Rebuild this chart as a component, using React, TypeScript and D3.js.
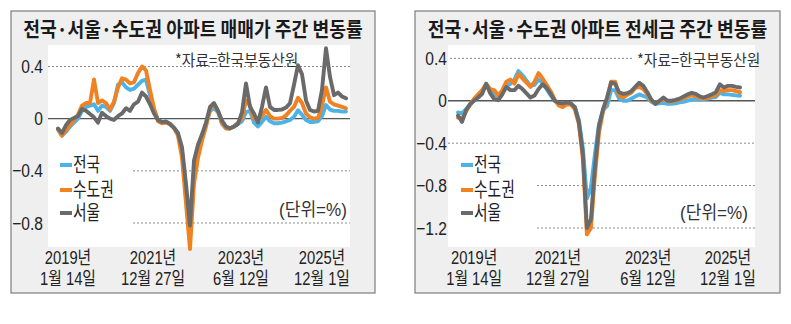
import React from 'react';
import * as d3 from 'd3';

const SERIES_NAMES = ['전국', '수도권', '서울'];
const SERIES_COLORS = ['#4cb3e9', '#f18221', '#6a6a6a'];

const X_LABEL_YEAR = ['2019년', '2021년', '2023년', '2025년'];
const X_LABEL_DAY = ['1월 14일', '12월 27일', '6월 12일', '12월 1일'];

const SALE_TITLE = '전국·서울·수도권 아파트 매매가 주간 변동률';
const JEONSE_TITLE = '전국·서울·수도권 아파트 전세금 주간 변동률';
const SOURCE = '*자료=한국부동산원';
const UNIT = '(단위=%)';

const SALE_Y_TICKS = [0.4, 0, -0.4, -0.8];
const JEONSE_Y_TICKS = [0.4, 0, -0.4, -0.8, -1.2];

const SALE_TICK_INDEX = [2.5, 23.75, 45.75, 66];
const JEONSE_TICK_INDEX = [4, 24.8, 47.2, 67];

const SALE_NATION = [
  -0.085, -0.13, -0.1, -0.06, -0.03, 0.0, 0.06, 0.09, 0.1, 0.11,
  0.06, 0.1, 0.09, 0.06, 0.12, 0.26, 0.28, 0.24, 0.22, 0.23,
  0.26, 0.29, 0.3, 0.18, 0.07, -0.01, -0.03, -0.02, -0.04, -0.07,
  -0.12, -0.25, -0.55, -0.85, -0.4, -0.25, -0.15, -0.04, 0.06, 0.08,
  0.05, -0.04, -0.075, -0.075, -0.06, -0.04, -0.02, 0.05, 0.06, -0.03,
  -0.06, -0.025, 0.015, -0.02, -0.035, -0.035, -0.03, -0.02, -0.01, 0.015,
  0.065, 0.03, -0.01, -0.025, -0.025, -0.02, 0.02, 0.105, 0.07, 0.06,
  0.06, 0.054, 0.054,
];
const SALE_CAPITAL = [
  -0.08, -0.13, -0.09, -0.05, -0.01, 0.03, 0.1, 0.12, 0.12, 0.3,
  0.12, 0.14, 0.12, 0.07, 0.13, 0.24, 0.31, 0.3, 0.27, 0.28,
  0.35, 0.4, 0.37, 0.22, 0.08, -0.02, -0.035, -0.03, -0.045, -0.07,
  -0.13, -0.3, -0.65, -1.0, -0.5, -0.3, -0.17, -0.06, 0.07, 0.11,
  0.06, -0.035, -0.074, -0.075, -0.06, -0.03, 0.0, 0.14, 0.1, 0.0,
  -0.01, 0.02, 0.067, 0.02, 0.0, 0.0, 0.005, 0.025, 0.06, 0.09,
  0.16, 0.12, 0.04, 0.01, 0.0, 0.005, 0.1, 0.24, 0.13, 0.11,
  0.1, 0.09, 0.08,
];
const SALE_SEOUL = [
  -0.075, -0.11, -0.05, -0.01, 0.005, 0.02, 0.075, 0.06, 0.035, 0.01,
  -0.03, 0.045, 0.02, 0.0, -0.01, 0.02, 0.04, 0.08, 0.06, 0.11,
  0.13, 0.2, 0.17, 0.11, 0.04, -0.01, -0.025, -0.023, -0.04, -0.07,
  -0.11, -0.22, -0.5, -0.82, -0.32, -0.2, -0.12, -0.03, 0.09, 0.12,
  0.06, -0.015, -0.06, -0.074, -0.06, -0.04, 0.05, 0.27, 0.09, 0.04,
  -0.03, 0.09, 0.24, 0.09, 0.067, 0.067, 0.07, 0.085, 0.118, 0.26,
  0.41, 0.34, 0.14, 0.067, 0.055, 0.06, 0.22, 0.54, 0.32, 0.18,
  0.2, 0.17, 0.156,
];

const JEONSE_NATION = [
  -0.11, -0.12, -0.08, -0.04, 0.01, 0.04, 0.09, 0.15, 0.09, 0.06,
  0.04, 0.09, 0.14, 0.16, 0.2, 0.28, 0.24, 0.19, 0.14, 0.15,
  0.2, 0.17, 0.11, 0.05, 0.0, -0.03, -0.035, -0.02, -0.025, -0.06,
  -0.18, -0.45, -0.92, -0.82, -0.5, -0.22, -0.09, -0.05, 0.1, 0.1,
  0.02, 0.0, 0.0, 0.02, 0.04, 0.06, 0.045, 0.03, -0.01, -0.03,
  -0.025, -0.02, -0.03, -0.03, -0.025, -0.015, -0.01, 0.0, 0.01, 0.015,
  0.01, 0.015, 0.02, 0.03, 0.035, 0.075, 0.06, 0.06, 0.055, 0.05, 0.047,
];
const JEONSE_CAPITAL = [
  -0.16, -0.17, -0.1, -0.04, 0.02, 0.06, 0.1, 0.16, 0.11, 0.1,
  0.05, 0.1, 0.18, 0.2, 0.16, 0.25, 0.21, 0.17, 0.13, 0.18,
  0.26, 0.21, 0.15, 0.09, 0.01, -0.045, -0.06, -0.035, -0.035, -0.08,
  -0.22, -0.55, -1.26, -1.2, -0.7, -0.3, -0.1, 0.02, 0.18, 0.18,
  0.05, 0.03, 0.055, 0.075, 0.12, 0.13, 0.11, 0.06, 0.0, -0.02,
  -0.005, 0.015, -0.005, -0.005, 0.0, 0.01, 0.025, 0.04, 0.05, 0.04,
  0.03, 0.02, 0.03, 0.04, 0.05, 0.1, 0.09, 0.1, 0.1, 0.09, 0.08,
];
const JEONSE_SEOUL = [
  -0.14, -0.2, -0.09, -0.03, 0.0, 0.03, 0.065, 0.16, 0.07, 0.015,
  0.005, 0.06, 0.13, 0.1, 0.1, 0.14, 0.11, 0.07, 0.03, 0.05,
  0.11, 0.155, 0.12, 0.065, 0.0, -0.02, -0.025, -0.016, -0.025, -0.06,
  -0.2, -0.5, -1.2, -1.12, -0.62, -0.24, -0.08, 0.03, 0.17, 0.16,
  0.08, 0.065, 0.07, 0.09, 0.13, 0.17, 0.14, 0.08, 0.01, -0.03,
  0.0, 0.03, 0.0, 0.0, 0.008, 0.02, 0.04, 0.06, 0.075, 0.065,
  0.04, 0.03, 0.045, 0.06, 0.08, 0.155, 0.125, 0.14, 0.14, 0.13, 0.125,
];

const FONT = "'Noto Sans CJK KR', 'Noto Sans', sans-serif";
const NUM_FONT = "'Liberation Sans', 'Noto Sans CJK KR', sans-serif";

function fmt(v: number) {
  if (v === 0) return '0';
  return (v < 0 ? '\u2212' : '') + Math.abs(v).toFixed(1);
}

function CText(props: any) {
  const { x, y, anchor = 'start', size = 19, sx = 0.74, weight = 400, fill = '#222', family = FONT, children } = props;
  return (
    <text
      transform={`translate(${x},${y}) scale(${sx},1)`}
      textAnchor={anchor}
      dominantBaseline="central"
      fontSize={size}
      fontWeight={weight}
      fill={fill}
      fontFamily={family}
    >
      {children}
    </text>
  );
}

function Panel(props: any) {
  const { cfg } = props;
  const n = cfg.series[0].length;
  const xs = d3.scaleLinear().domain([0, n - 1]).range(cfg.xRange);
  const ys = d3.scaleLinear().domain(cfg.yDomain).range(cfg.yRange);
  const line = d3
    .line<number>()
    .x((_d, i) => xs(i))
    .y((d) => ys(d));
  const b = cfg.box;
  const p = cfg.plot;
  return (
    <g>
      <rect x={b.x} y={b.y} width={b.w} height={b.h} fill="#efefef" stroke="#7d7d7d" strokeWidth={1.2} />
      <CText x={b.x + b.w / 2} y={29} anchor="middle" size={20} sx={cfg.titleSx} weight={700} fill="#1a1a1a">
        {cfg.title}
      </CText>
      <rect x={p.x} y={p.y} width={p.w} height={p.h} fill="#ffffff" />
      {cfg.yTicks.map((t: number, i: number) => {
        const y = ys(t);
        const x0 = t === 0 ? p.x : cfg.gridStart[i];
        const x1 = cfg.gridEnd[i];
        return (
          <line
            key={'g' + i}
            x1={x0}
            x2={x1}
            y1={y}
            y2={y}
            stroke={t === 0 ? '#555' : '#8a8a8a'}
            strokeWidth={t === 0 ? 1.4 : 1}
            strokeDasharray={t === 0 ? undefined : '2,2'}
          />
        );
      })}
      {cfg.yTicks.map((t: number, i: number) => (
        <CText key={'t' + i} x={cfg.yLabelX} y={ys(t)} anchor="end" size={19} sx={0.82} family={NUM_FONT}>
          {fmt(t)}
        </CText>
      ))}
      <CText x={cfg.sourceX} y={cfg.sourceY} size={16} sx={0.92} fill="#333">
        {SOURCE}
      </CText>
      <CText x={cfg.unitX} y={cfg.unitY} anchor="end" size={18} sx={0.95} fill="#333" family={NUM_FONT}>
        {UNIT}
      </CText>
      {cfg.series.map((s: number[], i: number) => (
        <path
          key={'s' + i}
          d={line(s) || ''}
          fill="none"
          stroke={SERIES_COLORS[i]}
          strokeWidth={3.9}
          strokeLinejoin="round"
          strokeLinecap="round"
        />
      ))}
      {SERIES_NAMES.map((nm, i) => (
        <g key={'l' + i}>
          <line
            x1={cfg.legendX}
            x2={cfg.legendX + 12}
            y1={cfg.legendY[i]}
            y2={cfg.legendY[i]}
            stroke={SERIES_COLORS[i]}
            strokeWidth={4}
          />
          <CText x={cfg.legendX + 13} y={cfg.legendY[i]} size={20} sx={0.74} family={NUM_FONT}>
            {nm}
          </CText>
        </g>
      ))}
      {cfg.tickIndex.map((ti: number, i: number) => (
        <g key={'x' + i}>
          <CText x={xs(ti)} y={257.5} anchor="middle" size={18} sx={0.82} family={NUM_FONT}>
            {X_LABEL_YEAR[i]}
          </CText>
          <CText x={xs(ti)} y={278.5} anchor="middle" size={18} sx={0.82} family={NUM_FONT}>
            {X_LABEL_DAY[i]}
          </CText>
        </g>
      ))}
    </g>
  );
}

const SALE_CFG = {
  title: SALE_TITLE,
  titleSx: 0.91,
  box: { x: 11, y: 11, w: 364, h: 282 },
  plot: { x: 48, y: 45, w: 302, h: 202 },
  xRange: [58, 346],
  yDomain: [0.4, -0.8],
  yRange: [66.5, 223],
  yTicks: SALE_Y_TICKS,
  gridStart: [48, 48, 133, 133],
  gridEnd: [350, 350, 350, 350],
  yLabelX: 43,
  sourceX: 175,
  sourceY: 59,
  unitX: 347,
  unitY: 210,
  legendX: 60,
  legendY: [165, 190, 213],
  tickIndex: SALE_TICK_INDEX,
  series: [SALE_NATION, SALE_CAPITAL, SALE_SEOUL],
};

const JEONSE_CFG = {
  title: JEONSE_TITLE,
  titleSx: 0.91,
  box: { x: 415, y: 11, w: 365, h: 282 },
  plot: { x: 448, y: 45, w: 307, h: 202 },
  xRange: [458, 740],
  yDomain: [0.4, -1.2],
  yRange: [58.3, 228],
  yTicks: JEONSE_Y_TICKS,
  gridStart: [450, 448, 448, 537, 537],
  gridEnd: [632, 755, 755, 755, 755],
  yLabelX: 447,
  sourceX: 637,
  sourceY: 59,
  unitX: 748,
  unitY: 213,
  legendX: 461,
  legendY: [165, 190, 213],
  tickIndex: JEONSE_TICK_INDEX,
  series: [JEONSE_NATION, JEONSE_CAPITAL, JEONSE_SEOUL],
};

export default function App() {
  return (
    <svg
      width={791}
      height={324}
      viewBox="0 0 791 324"
      style={{ position: 'absolute', left: 0, top: 0, background: '#fff' }}
    >
      <rect x={0} y={0} width={791} height={324} fill="#fff" />
      <Panel cfg={SALE_CFG} />
      <Panel cfg={JEONSE_CFG} />
    </svg>
  );
}
